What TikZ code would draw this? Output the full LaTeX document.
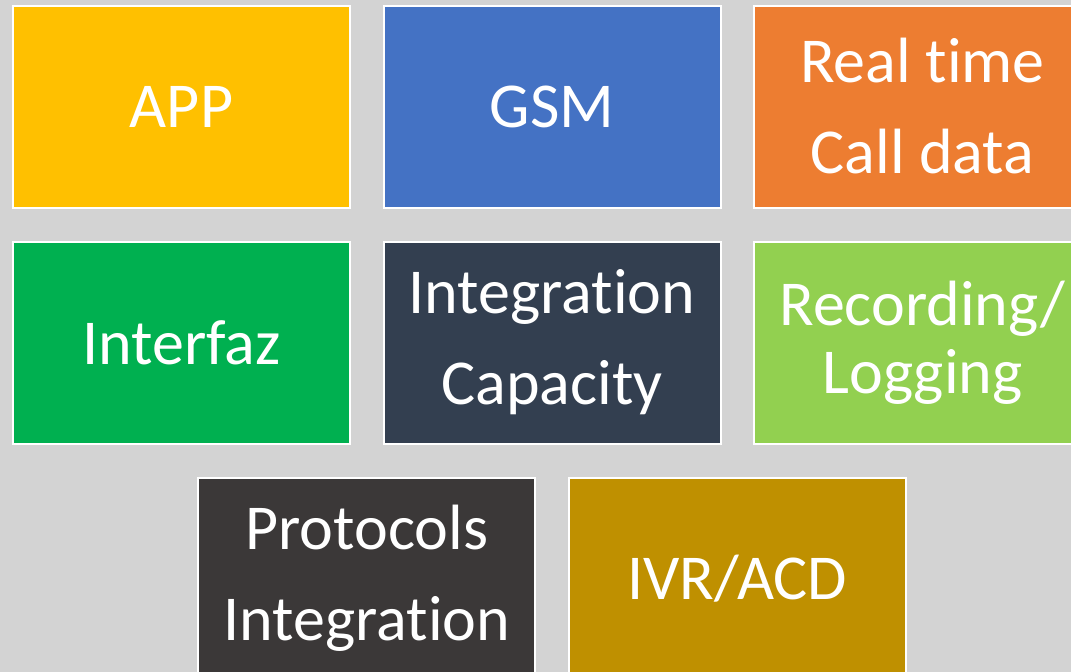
\documentclass[tikz,border=0pt]{standalone}
\usepackage{fontspec}
\setmainfont{Carlito}[Ligatures={NoCommon,NoRare,NoContextual}]
\usepackage{xcolor}
\usetikzlibrary{math}

\definecolor{bggrey}{HTML}{D3D3D3}
\definecolor{appyellow}{HTML}{FFC000}
\definecolor{gsmblue}{HTML}{4472C4}
\definecolor{callorange}{HTML}{ED7D31}
\definecolor{ifgreen}{HTML}{00B050}
\definecolor{capnavy}{HTML}{333F50}
\definecolor{reclime}{HTML}{92D050}
\definecolor{protogrey}{HTML}{3B3838}
\definecolor{ivrgold}{HTML}{BF9000}

\begin{document}
\begin{tikzpicture}[x=1pt, y=-1pt,
    tile/.style={draw=white, line width=2pt, minimum width=337pt, minimum height=202pt,
                 inner sep=0pt, text=white, align=center,
                 font=\fontsize{64}{91}\selectfont}]

\tikzmath{
\pitchx = 370.5;
\pitchy = 236;
\colx = 181.5;
\rowy = 106.5;
}

\useasboundingbox (0,0) rectangle (1071,672);
\fill[bggrey] (0,0) rectangle (1071,672);
\clip (0,0) rectangle (1071,672);

% first row
\node[tile, fill=appyellow] (app) at (\colx, \rowy) {APP};
\node[tile, fill=gsmblue] (gsm) at (\colx + \pitchx, \rowy) {GSM};
\node[tile, fill=callorange] (realtime) at (\colx + 2*\pitchx, \rowy) {Real time\\Call data};

% second row
\node[tile, fill=ifgreen] (interfaz) at (\colx, \rowy + \pitchy) {Interfaz};
\node[tile, fill=capnavy] (capacity) at (\colx + \pitchx, \rowy + \pitchy) {Integration\\Capacity};
\node[tile, fill=reclime, font=\fontsize{64}{68}\selectfont] (recording) at (\colx + 2*\pitchx, \rowy + \pitchy) {Recording/\\Logging};

% last row, shifted half a column
\node[tile, fill=protogrey] (protocols) at (\colx + \pitchx/2, \rowy + 2*\pitchy) {Protocols\\Integration};
\node[tile, fill=ivrgold] (ivr) at (\colx + 3*\pitchx/2, \rowy + 2*\pitchy) {IVR/ACD};

\end{tikzpicture}
\end{document}
